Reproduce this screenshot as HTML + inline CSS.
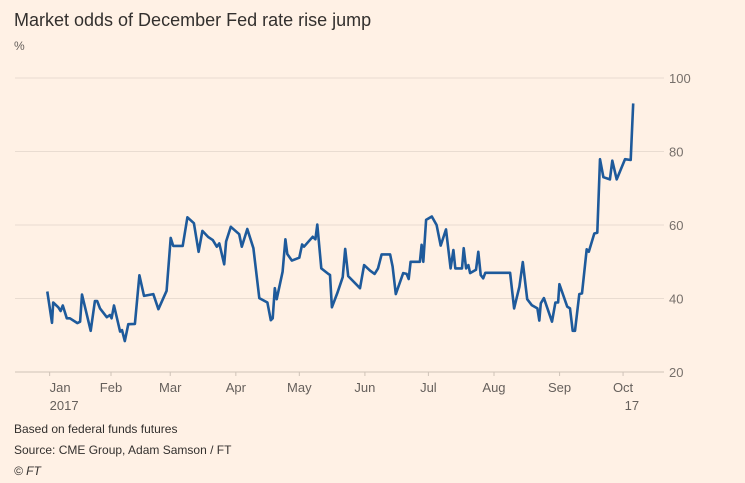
<!DOCTYPE html>
<html><head><meta charset="utf-8"><style>
body{margin:0;background:#fff1e5;font-family:"Liberation Sans",sans-serif;}
svg{display:block}
</style></head><body>
<svg width="745" height="483">
<rect width="745" height="483" fill="#fff1e5"/>
<text x="14" y="26" font-size="18" fill="#33302e">Market odds of December Fed rate rise jump</text>
<text x="14" y="50" font-size="12" fill="#66605c">%</text>
<g id="grid"></g><g id="xaxis"></g>
<path id="line" fill="none" stroke="#1e5a9b" stroke-width="2.6" stroke-linejoin="round"/>
<text x="14" y="433" font-size="12" fill="#33302e">Based on federal funds futures</text>
<text x="14" y="454" font-size="12" fill="#33302e">Source: CME Group, Adam Samson / FT</text>
<text x="14" y="475" font-size="12" font-style="italic" fill="#33302e">© FT</text>
</svg>
<script>
const days=[0.9,3.1,3.7,6.1,7.2,8.2,10.1,11.6,15.1,16.4,17.3,21.4,23.4,24.5,25.8,29.0,30.5,31.3,32.4,35.3,36.2,37.5,39.2,42.3,44.4,46.6,51.0,53.4,57.3,59.2,60.4,64.9,67.1,70.2,72.4,74.2,77.0,79.1,81.0,82.2,84.5,85.4,87.6,91.6,92.8,95.4,98.3,101.1,104.9,106.5,107.4,108.4,109.3,112.1,113.4,114.3,116.5,120.0,121.3,122.2,126.3,127.6,128.5,130.4,133.7,134.5,135.4,137.9,140.5,141.7,143.1,148.7,150.6,153.4,155.6,157.2,158.9,162.9,164.1,165.6,169.1,170.7,171.7,172.6,177.0,177.8,178.6,179.9,182.6,184.9,186.8,189.3,191.5,192.8,193.7,196.9,197.7,198.8,199.9,200.7,203.5,204.6,205.7,206.9,207.9,219.6,221.5,224.0,225.6,227.7,229.8,232.5,233.4,234.1,235.6,239.4,241.0,242.3,242.9,246.6,247.9,249.2,250.3,252.3,253.6,255.8,256.8,259.4,260.8,262.1,263.7,266.8,267.9,270.0,273.9,276.6,277.8];
const values=[41.9,33.4,38.9,37.6,36.6,38.1,34.6,34.6,33.3,33.7,41.1,31.2,39.3,39.3,37.3,34.9,35.5,34.6,38.1,31.0,31.4,28.4,33.0,33.1,46.3,40.7,41.2,37.1,42.1,56.5,54.3,54.3,62.1,60.5,52.7,58.4,56.7,55.9,54.1,55.0,49.3,55.5,59.5,57.5,54.1,58.9,53.7,40.1,38.9,34.1,34.6,42.8,39.8,47.3,56.1,52.1,50.3,51.1,54.7,54.1,56.8,56.1,60.1,48.2,46.7,46.4,37.6,41.4,45.8,53.5,46.1,42.8,49.1,47.6,46.7,48.2,52.0,52.0,48.7,41.2,46.9,46.7,45.3,50.0,50.0,54.6,50.0,61.4,62.3,60.0,54.4,58.8,48.2,53.2,48.2,48.2,53.7,48.2,49.1,46.9,47.8,52.7,46.4,45.5,47.0,47.0,37.3,43.2,49.9,39.8,38.2,37.3,34.0,38.7,40.1,33.7,38.9,38.9,43.9,37.8,37.3,31.2,31.2,41.2,41.4,53.4,52.7,57.7,57.9,77.9,73.0,72.4,77.5,72.4,77.9,77.7,93.1];
const yTicks=[20,40,60,80,100];
const monthLabels=["Jan","Feb","Mar","Apr","May","Jun","Jul","Aug","Sep","Oct"];
const monthStarts=[2,31,59,90,120,151,181,212,243,273];
const NS="http://www.w3.org/2000/svg";
const x=d=>45.4+d*2.116;
const y=v=>372-(v-20)*3.675;
const grid=document.getElementById('grid');
yTicks.forEach(t=>{
  const l=document.createElementNS(NS,'line');
  l.setAttribute('x1',15);l.setAttribute('x2',664);
  l.setAttribute('y1',y(t));l.setAttribute('y2',y(t));
  l.setAttribute('stroke',t===20?'#cfc3b8':'#e9dcd1');l.setAttribute('stroke-width',1);
  
  
  grid.appendChild(l);
  const tx=document.createElementNS(NS,'text');
  tx.setAttribute('x',669);tx.setAttribute('y',y(t)+5);
  tx.setAttribute('font-size',13);tx.setAttribute('fill','#77706b');
  tx.textContent=t;
  
  
  grid.appendChild(tx);
});
const xa=document.getElementById('xaxis');
monthLabels.forEach((m,i)=>{
  const px=x(monthStarts[i]);
  const tk=document.createElementNS(NS,'line');
  tk.setAttribute('x1',px);tk.setAttribute('x2',px);tk.setAttribute('y1',372);tk.setAttribute('y2',376);
  tk.setAttribute('stroke','#cfc3b8');
  
  
  xa.appendChild(tk);
  const tx=document.createElementNS(NS,'text');
  tx.setAttribute('x',px);tx.setAttribute('y',392);tx.setAttribute('text-anchor',i===0?'start':'middle');
  tx.setAttribute('font-size',13);tx.setAttribute('fill','#66605c');tx.textContent=m;
  
  
  xa.appendChild(tx);
});
[["2017",0,'start',0],["17",9,'end',16]].forEach(([s,i,a,off])=>{
  const tx=document.createElementNS(NS,'text');
  tx.setAttribute('x',x(monthStarts[i])+off);tx.setAttribute('y',410);tx.setAttribute('text-anchor',a);
  tx.setAttribute('font-size',13);tx.setAttribute('fill','#66605c');tx.textContent=s;
  
  
  xa.appendChild(tx);
});
document.getElementById('line').setAttribute('d',days.map((d,i)=>(i?'L':'M')+x(d).toFixed(1)+','+y(values[i]).toFixed(1)).join(''));
</script>
</body></html>
